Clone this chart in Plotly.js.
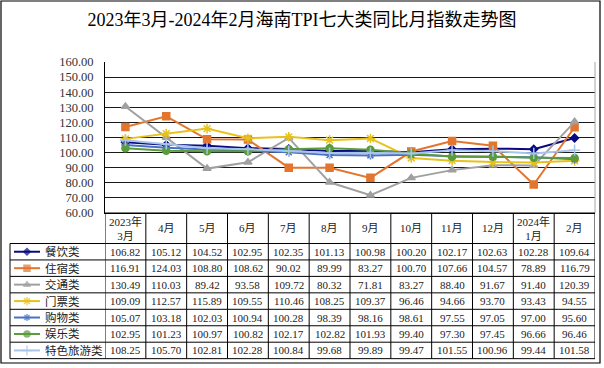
<!DOCTYPE html>
<html>
<head>
<meta charset="utf-8">
<script src="https://cdn.plot.ly/plotly-3.0.1.min.js"></script>
<style>html,body{margin:0;padding:0;background:#fff;}#chart{width:604px;height:368px;}</style>
</head>
<body>
<div id="chart"></div>
<script>
// ---- data ----
const months = ['2023年<br>3月','4月','5月','6月','7月','8月','9月','10月','11月','12月','2024年<br>1月','2月'];
const seriesNames = ['餐饮类','住宿类','交通类','门票类','购物类','娱乐类','特色旅游类'];
const canyin   = [106.82,105.12,104.52,102.95,102.35,101.13,100.98,100.20,102.17,102.63,102.28,109.64];
const zhusu    = [116.91,124.03,108.80,108.62,90.02,89.99,83.27,100.70,107.66,104.57,78.89,116.79];
const jiaotong = [130.49,110.03,89.42,93.58,109.72,80.32,71.81,83.27,88.40,91.67,91.40,120.39];
const menpiao  = [109.09,112.57,115.89,109.55,110.46,108.25,109.37,96.46,94.66,93.70,93.43,94.55];
const gouwu    = [105.07,103.18,102.03,100.94,100.28,98.39,98.16,98.61,97.55,97.05,97.00,95.60];
const yule     = [102.95,101.23,100.97,100.82,102.17,102.82,101.93,99.40,97.30,97.45,96.66,96.46];
const tese     = [108.25,105.70,102.81,102.28,100.84,99.68,99.89,99.47,101.55,100.96,99.44,101.58];
const yTicks = [60,70,80,90,100,110,120,130,140,150,160];

// ---- styles ----
const seriesData = [canyin, zhusu, jiaotong, menpiao, gouwu, yule, tese];
const styles = [
  {color:'#0a0a80', symbol:'diamond', size:6},
  {color:'#e2762f', symbol:'square', size:7},
  {color:'#a0a0a0', symbol:'triangle-up', size:7},
  {color:'#e8c21c', symbol:'asterisk-open', size:8},
  {color:'#4a72c4', symbol:'asterisk-open', size:7},
  {color:'#5a9b3e', symbol:'circle', size:7},
  {color:'#a8c4ea', symbol:'cross-thin-open', size:8}
];

const W = 604, H = 368;
const L = 105, R = 595, T = 62, B = 213;
const tableLeft = 10, headBottom = 243.5, rowH = 16.45;
const tableBottom = headBottom + rowH * seriesNames.length;
const px = x => x / W;
const py = y => 1 - y / H;
const FONT = 'Liberation Serif, Noto Sans CJK SC, serif';
const idx = months.map((m, i) => i);

const traces = [];
seriesData.forEach((vals, k) => {
  const st = styles[k];
  traces.push({
    type:'scatter', mode:'lines+markers', name:seriesNames[k],
    x: idx, y: vals, xaxis:'x', yaxis:'y',
    line:{color:st.color, width:2},
    marker:{symbol:st.symbol, size:st.size, color:st.color, line:{color:st.color, width:1.5}},
    showlegend:false, hoverinfo:'skip'
  });
});
// legend keys in table (pixel overlay axes)
seriesNames.forEach((n, k) => {
  const st = styles[k];
  const yc = headBottom + (k + 0.5) * rowH;
  traces.push({
    type:'scatter', mode:'lines+markers', x:[14,27,40], y:[yc,yc,yc], xaxis:'x2', yaxis:'y2',
    line:{color:st.color, width:2},
    marker:{symbol:st.symbol, size:[0, st.size - 1, 0], color:st.color, line:{color:st.color, width:1.5}},
    showlegend:false, hoverinfo:'skip'
  });
});

const shapes = [];
const annotations = [];
const black = '#000';
// outer border
shapes.push({type:'rect', xref:'paper', yref:'paper', x0:px(1), x1:px(600), y0:py(363), y1:py(1), line:{color:black, width:1.2}});
// plot right gray border
shapes.push({type:'line', xref:'paper', yref:'paper', x0:px(R), x1:px(R), y0:py(T), y1:py(B), line:{color:'#a6a6a6', width:1}});
// table top line (header)
shapes.push({type:'line', xref:'paper', yref:'paper', x0:px(L), x1:px(R), y0:py(B), y1:py(B), line:{color:black, width:1}});
// horizontal row lines
for (let k = 0; k <= seriesNames.length; k++) {
  const yy = headBottom + k * rowH;
  shapes.push({type:'line', xref:'paper', yref:'paper', x0:px(tableLeft), x1:px(R), y0:py(yy), y1:py(yy), line:{color:black, width:1}});
}
// vertical lines
shapes.push({type:'line', xref:'paper', yref:'paper', x0:px(tableLeft), x1:px(tableLeft), y0:py(headBottom), y1:py(tableBottom), line:{color:black, width:1}});
for (let i = 0; i <= months.length; i++) {
  shapes.push({type:'line', xref:'x', yref:'paper', x0:i - 0.5, x1:i - 0.5, y0:py(B), y1:py(tableBottom), line:{color:black, width:1}});
}
// header labels
months.forEach((m, i) => {
  annotations.push({xref:'x', yref:'paper', x:i, y:py((B + headBottom) / 2), text:m, showarrow:false,
    font:{family:FONT, size:11, color:'#222'}, xanchor:'center', yanchor:'middle'});
});
// row labels and values
seriesNames.forEach((n, k) => {
  const yc = headBottom + (k + 0.5) * rowH;
  annotations.push({xref:'paper', yref:'paper', x:px(43), y:py(yc), text:n, showarrow:false,
    font:{family:FONT, size:11.5, color:'#222'}, xanchor:'left', yanchor:'middle'});
  seriesData[k].forEach((v, i) => {
    annotations.push({xref:'x', yref:'paper', x:i, y:py(yc), text:v.toFixed(2), showarrow:false,
      font:{family:FONT, size:11, color:'#222'}, xanchor:'center', yanchor:'middle'});
  });
});

const layout = {
  width:W, height:H, autosize:false,
  margin:{l:0, r:0, t:0, b:0, pad:0},
  paper_bgcolor:'#fff', plot_bgcolor:'rgba(0,0,0,0)',
  title:{text:'2023年3月-2024年2月海南TPI七大类同比月指数走势图', font:{family:FONT, size:18, color:'#000'},
    x:0.5, xanchor:'center', xref:'paper', y:1 - 20 / H, yref:'container', yanchor:'middle'},
  xaxis:{domain:[px(L), px(R)], range:[-0.5, months.length - 0.5], showticklabels:false, showgrid:false,
    zeroline:false, showline:true, linecolor:black, linewidth:1, ticks:'', fixedrange:true},
  yaxis:{domain:[py(B), py(T)], range:[60, 160], tickvals:yTicks, ticktext:yTicks.map(v => v.toFixed(2)),
    showgrid:true, gridcolor:'#1a1a1a', gridwidth:1, zeroline:false, showline:true, linecolor:black, linewidth:1,
    ticks:'', ticklabelstandoff:8, tickfont:{family:FONT, size:12.5, color:'#333'}, fixedrange:true},
  xaxis2:{domain:[0,1], range:[0,W], visible:false, fixedrange:true, anchor:'y2'},
  yaxis2:{domain:[0,1], range:[H,0], visible:false, fixedrange:true, anchor:'x2'},
  shapes:shapes, annotations:annotations
};

Plotly.newPlot('chart', traces, layout, {displayModeBar:false, staticPlot:true});
</script>
</body>
</html>
